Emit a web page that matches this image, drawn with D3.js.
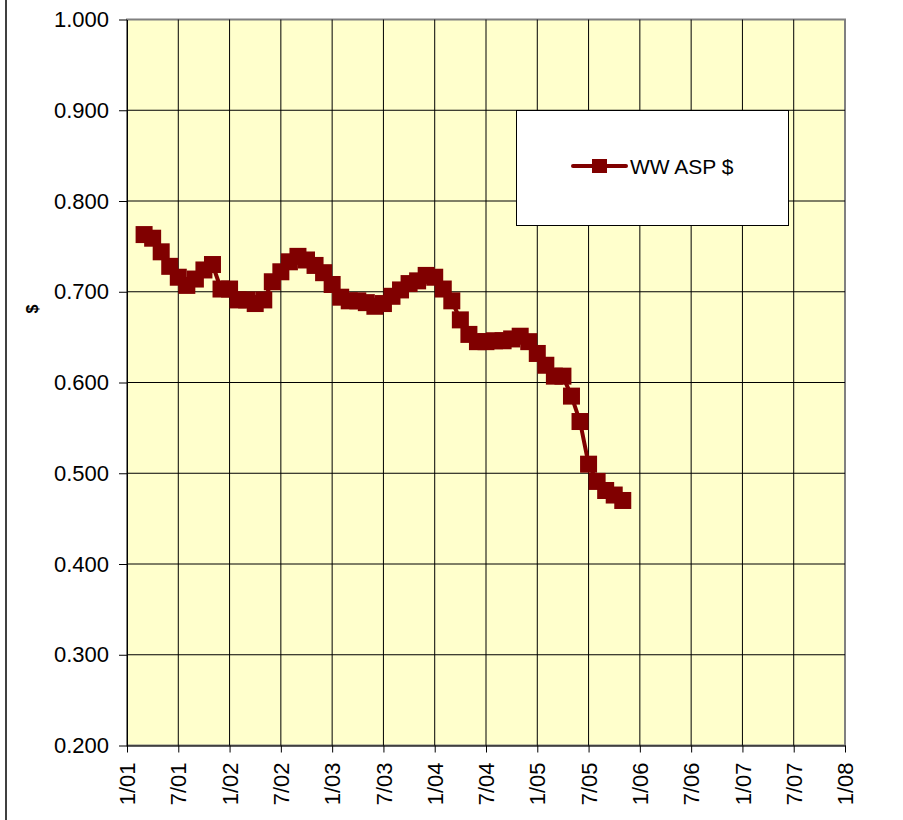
<!DOCTYPE html>
<html>
<head>
<meta charset="utf-8">
<script src="https://cdn.jsdelivr.net/npm/d3@7"></script>
<style>
  html, body { margin: 0; padding: 0; background: #ffffff; }
  svg { display: block; }
  text { font-family: "Liberation Sans", Arial, sans-serif; fill: #000; }
</style>
</head>
<body>
<svg id="chart" width="903" height="820"></svg>
<script>
// ---- data ----
const dates = [
  "2001-03","2001-04","2001-05","2001-06","2001-07","2001-08","2001-09","2001-10","2001-11","2001-12",
  "2002-01","2002-02","2002-03","2002-04","2002-05","2002-06","2002-07","2002-08","2002-09","2002-10","2002-11","2002-12",
  "2003-01","2003-02","2003-03","2003-04","2003-05","2003-06","2003-07","2003-08","2003-09","2003-10","2003-11","2003-12",
  "2004-01","2004-02","2004-03","2004-04","2004-05","2004-06","2004-07","2004-08","2004-09","2004-10","2004-11","2004-12",
  "2005-01","2005-02","2005-03","2005-04","2005-05","2005-06","2005-07","2005-08","2005-09","2005-10","2005-11"
];
const aspValues = [
  0.763,0.759,0.744,0.728,0.716,0.707,0.714,0.724,0.730,0.703,
  0.703,0.691,0.691,0.687,0.691,0.711,0.722,0.733,0.739,0.735,0.729,0.721,
  0.708,0.694,0.690,0.690,0.688,0.684,0.687,0.695,0.702,0.709,0.712,0.718,
  0.716,0.703,0.690,0.669,0.653,0.645,0.645,0.646,0.646,0.648,0.651,0.645,
  0.632,0.619,0.607,0.607,0.585,0.557,0.510,0.491,0.481,0.476,0.470
];
const xTickLabels = ["1/01","7/01","1/02","7/02","1/03","7/03","1/04","7/04","1/05","7/05","1/06","7/06","1/07","7/07","1/08"];
const yTickValues = [0.2,0.3,0.4,0.5,0.6,0.7,0.8,0.9,1.0];
const seriesName = "WW ASP $";
const yTitle = "$";

// ---- helpers ----
const baseYear = 2001;
function monthIndexFromDate(s) { const [y, m] = s.split("-").map(Number); return (y - baseYear) * 12 + (m - 1); }
function monthIndexFromLabel(s) { const [m, yy] = s.split("/").map(Number); return (2000 + yy - baseYear) * 12 + (m - 1); }

const data = dates.map((d, i) => ({ t: monthIndexFromDate(d), v: aspValues[i] }));
const xTicks = xTickLabels.map(l => ({ label: l, t: monthIndexFromLabel(l) }));

// ---- layout ----
const plot = { left: 127, right: 845, top: 19.5, bottom: 745.5 };
const color = "#800000";

const svg = d3.select("#chart");

const x = d3.scaleLinear()
  .domain([xTicks[0].t, xTicks[xTicks.length - 1].t])
  .range([plot.left, plot.right]);
const y = d3.scaleLinear()
  .domain([0.2, 1.0])
  .range([plot.bottom, plot.top]);

// outer chart-area left border
svg.append("line")
  .attr("x1", 6).attr("x2", 6).attr("y1", 0).attr("y2", 820)
  .attr("stroke", "#404040").attr("stroke-width", 2);

// plot background
svg.append("rect")
  .attr("x", plot.left).attr("y", plot.top)
  .attr("width", plot.right - plot.left).attr("height", plot.bottom - plot.top)
  .attr("fill", "#FFFFCC")
  .attr("stroke", "#808080").attr("stroke-width", 2);

// gridlines
const grid = svg.append("g");
grid.selectAll(".hg").data(yTickValues.slice(1, -1)).join("line")
  .attr("x1", plot.left).attr("x2", plot.right)
  .attr("y1", d => y(d)).attr("y2", d => y(d))
  .attr("stroke", "#000").attr("stroke-width", 1);
grid.selectAll(".vg").data(xTicks.slice(1, -1)).join("line")
  .attr("x1", d => x(d.t)).attr("x2", d => x(d.t))
  .attr("y1", plot.top).attr("y2", plot.bottom)
  .attr("stroke", "#000").attr("stroke-width", 1);

// y axis
const yAxis = d3.axisLeft(y)
  .tickValues(yTickValues)
  .tickFormat(d3.format(".3f"))
  .tickSizeInner(8).tickSizeOuter(0).tickPadding(10);
const yg = svg.append("g").attr("transform", `translate(${plot.left},0)`).call(yAxis);
yg.select(".domain").attr("stroke", "#000");
yg.selectAll(".tick line").attr("stroke", "#000");
yg.selectAll(".tick text")
  .style("font-family", "'Liberation Sans', Arial, sans-serif")
  .style("font-size", "22px").attr("fill", "#000");

// x axis
const xAxis = d3.axisBottom(x)
  .tickValues(xTicks.map(d => d.t))
  .tickFormat((d, i) => xTicks[i].label)
  .tickSizeInner(7).tickSizeOuter(0);
const xg = svg.append("g").attr("transform", `translate(0,${plot.bottom})`).call(xAxis);
xg.select(".domain").attr("stroke", "#000");
xg.selectAll(".tick line").attr("stroke", "#000");
xg.selectAll(".tick text")
  .style("font-family", "'Liberation Sans', Arial, sans-serif")
  .style("font-size", "22px").attr("fill", "#000")
  .attr("transform", "rotate(-90)")
  .attr("text-anchor", "end")
  .attr("x", -17).attr("y", 0).attr("dy", "0.35em");

// y axis title
svg.append("text")
  .attr("transform", "translate(32,309) rotate(-90)")
  .attr("text-anchor", "middle").attr("dy", "0.35em")
  .style("font-size", "16px").style("font-weight", "bold")
  .text(yTitle);

// series line
const line = d3.line().x(d => x(d.t)).y(d => y(d.v));
svg.append("path").datum(data)
  .attr("d", line)
  .attr("fill", "none").attr("stroke", color).attr("stroke-width", 4)
  .attr("stroke-linejoin", "round");

// markers
const ms = 17;
svg.append("g").selectAll("rect").data(data).join("rect")
  .attr("x", d => x(d.t) - ms / 2).attr("y", d => y(d.v) - ms / 2)
  .attr("width", ms).attr("height", ms)
  .attr("fill", color);

// legend
const lg = svg.append("g");
lg.append("rect")
  .attr("x", 516.5).attr("y", 110.5).attr("width", 272).attr("height", 115)
  .attr("fill", "#fff").attr("stroke", "#000").attr("stroke-width", 1);
lg.append("line")
  .attr("x1", 573).attr("x2", 626).attr("y1", 166).attr("y2", 166)
  .attr("stroke", color).attr("stroke-width", 4).attr("stroke-linecap", "round");
lg.append("rect")
  .attr("x", 592).attr("y", 159).attr("width", 15).attr("height", 14)
  .attr("fill", color);
lg.append("text")
  .attr("x", 630).attr("y", 167).attr("dy", "0.35em")
  .style("font-size", "21px")
  .text(seriesName);
</script>
</body>
</html>
